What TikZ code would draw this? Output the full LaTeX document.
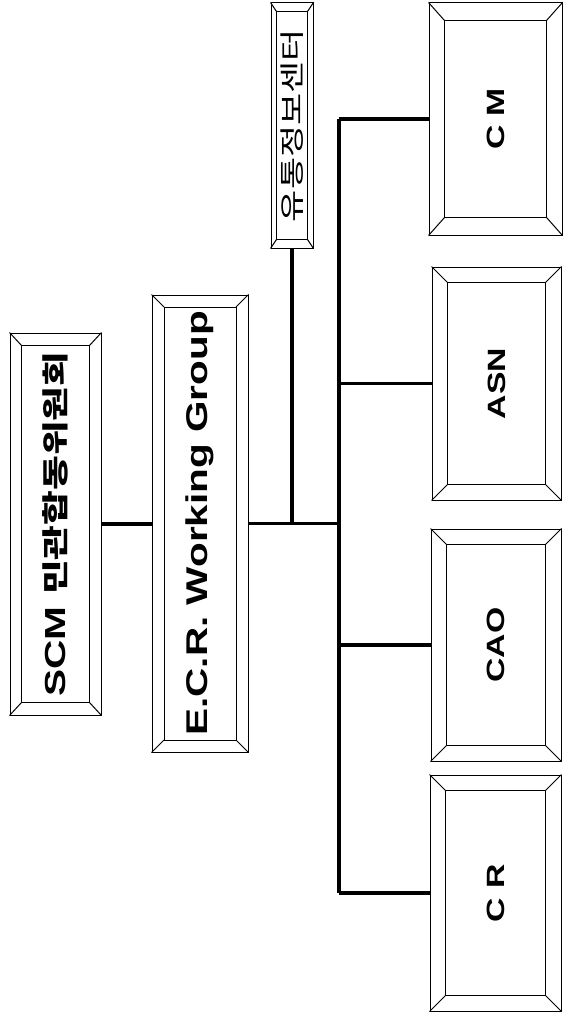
\documentclass[tikz,border=0pt]{standalone}
\usepackage{fontspec}
\usepackage{graphicx}
\setmainfont{Liberation Sans}
\newfontfamily\kr{Noto Sans CJK KR}
\tikzset{
  boxline/.style={draw=black, line width=1pt},
  conn/.style={draw=black, line width=3.4pt, line join=miter},
  trunkline/.style={draw=black, line width=4.4pt},
}
\newcommand\bevelbox[8]{% name, cx, cy, w, h, bx, by, text
  \node[boxline, minimum width=#4pt, minimum height=#5pt, inner sep=0pt, fill=white] (#1) at (#2,#3) {};
  \draw[boxline] ([shift={(#6pt,-#7pt)}]#1.north west) rectangle ([shift={(-#6pt,#7pt)}]#1.south east);
  \draw[boxline] (#1.north west) -- ++(#6pt,-#7pt);
  \draw[boxline] (#1.north east) -- ++(-#6pt,-#7pt);
  \draw[boxline] (#1.south west) -- ++(#6pt,#7pt);
  \draw[boxline] (#1.south east) -- ++(-#6pt,#7pt);
  \node[rotate=90, inner sep=0pt] (#1-label) at (#1) {#8};
}
\newcommand\stretchtxt[2][1.35]{\scalebox{#1}[1]{#2}}
\begin{document}
\begin{tikzpicture}[x=1pt, y=-1pt]
\useasboundingbox[fill=white] (0,0) rectangle (563,1014);
% boxes
\bevelbox{scm}{55.5}{524}{91}{382}{12}{13}{\stretchtxt[1.4]{\fontsize{29}{33}\selectfont\bfseries SCM {\kr\fontsize{27}{31}\selectfont 민관합동위원회}}}
\bevelbox{ecr}{200}{523.5}{96}{457}{12.5}{12.5}{\stretchtxt{\fontsize{30}{34}\selectfont\bfseries E.C.R. Working Group}}
\bevelbox{dist}{292}{125.5}{42}{245}{6}{9}{\stretchtxt[1.4]{\kr\fontsize{25}{29}\selectfont 유통정보센터}}
\bevelbox{cm}{495.5}{119}{133}{232}{16}{18}{\stretchtxt{\fontsize{25}{30}\selectfont\bfseries C M}}
\bevelbox{asn}{496.5}{383.5}{129}{233}{16}{16}{\stretchtxt{\fontsize{25}{30}\selectfont\bfseries ASN}}
\bevelbox{cao}{496}{645}{130}{232}{16}{16}{\stretchtxt{\fontsize{25}{30}\selectfont\bfseries CAO}}
\bevelbox{cr}{495.5}{893}{131}{236}{16}{16}{\stretchtxt{\fontsize{25}{30}\selectfont\bfseries C R}}
% connectors
\coordinate (trunkx) at (339,0);
\draw[conn] (scm.east) -- (scm.east -| ecr.west);
\draw[conn] (ecr.east) -- (ecr.east -| trunkx);
\draw[conn] (dist.south) -- (dist.south |- ecr.east);
\draw[trunkline] (cm.west -| trunkx) -- (cr.west -| trunkx);
\draw[conn] (cm.west -| trunkx) -- (cm.west);
\draw[conn] (asn.west -| trunkx) -- (asn.west);
\draw[conn] (cao.west -| trunkx) -- (cao.west);
\draw[conn] (cr.west -| trunkx) -- (cr.west);
\end{tikzpicture}
\end{document}
